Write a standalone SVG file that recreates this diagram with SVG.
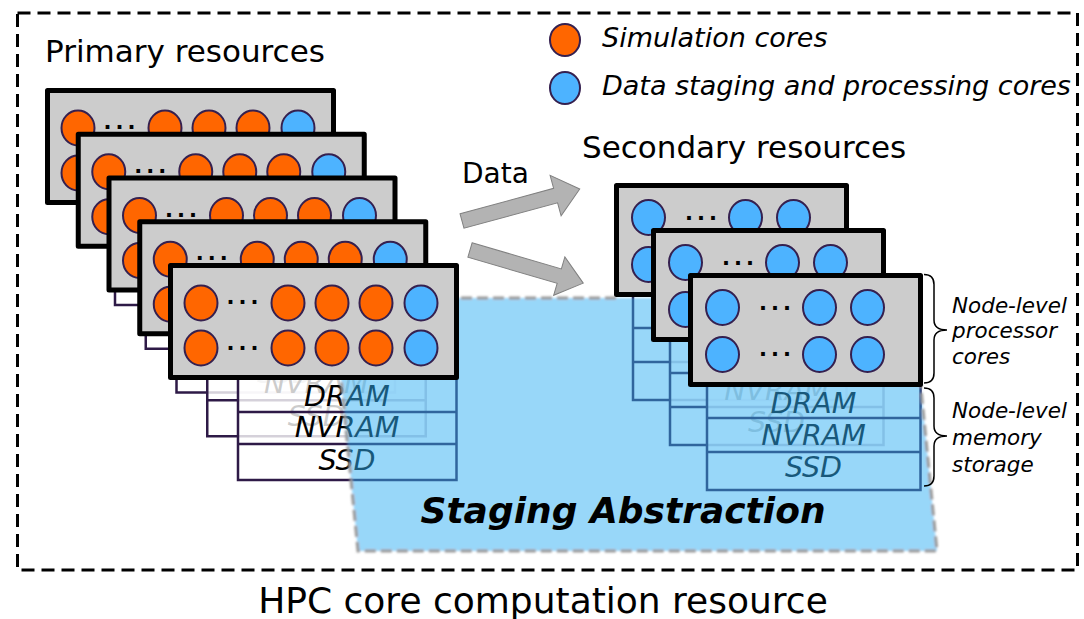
<svg xmlns="http://www.w3.org/2000/svg" width="1084" height="619" viewBox="0 0 1084 619">
  <defs>
    <style>
      text { font-family: "DejaVu Sans", "Liberation Sans", sans-serif; fill: #000; }
      .title { font-size: 31px; }
      .caption { font-size: 36px; text-anchor: middle; }
      .legend { font-size: 27px; font-style: italic; }
      .label { font-size: 28px; }
      .box { fill: #cccccc; stroke: #000; stroke-width: 5; stroke-linejoin: round; }
      .sim { fill: #ff6600; stroke: #35204f; stroke-width: 2; }
      .stg { fill: #4db3ff; stroke: #35204f; stroke-width: 2; }
      .dots { font-size: 21px; font-weight: bold; letter-spacing: 4px; text-anchor: middle; }
      .mem rect { fill: #ffffff; fill-opacity: 0.8; stroke: #2e1a47; stroke-width: 2.5; }
      .mem line { stroke: #2e1a47; stroke-width: 2.5; }
      .mem text { font-size: 28.5px; font-style: italic; text-anchor: middle; }
      .arrow { fill: #b3b3b3; stroke: #808080; stroke-width: 1; }
      .brace { fill: none; stroke: #000; stroke-width: 1.5; }
      .note { font-size: 21.5px; font-style: italic; }
      .frame { fill: none; stroke: #000; stroke-width: 3; stroke-dasharray: 13 7; }
      .area { fill: #33aff3; fill-opacity: 0.5; stroke: none; }
      .area-edge { fill: none; stroke: #9a9a9a; stroke-width: 3; stroke-dasharray: 11 5; }
      .area-title { font-size: 36px; font-weight: bold; font-style: italic; text-anchor: middle; }
    </style>
    <filter id="soft" x="-5%" y="-5%" width="110%" height="110%">
      <feGaussianBlur stdDeviation="0.8"/>
    </filter>
  </defs>

  <!-- outer frame and captions -->
  <rect class="frame" x="17.5" y="13" width="1060" height="557"/>
  <text class="title" x="45" y="62">Primary resources</text>
  <text class="title" x="582" y="158">Secondary resources</text>
  <text class="caption" x="543" y="613">HPC core computation resource</text>

  <!-- legend -->
  <g id="legend">
    <ellipse class="sim" cx="565" cy="40" rx="15" ry="16"/>
    <text class="legend" x="602" y="47">Simulation cores</text>
    <ellipse class="stg" cx="565" cy="88" rx="15" ry="16"/>
    <text class="legend" x="602" y="95">Data staging and processing cores</text>
  </g>

  <!-- memory stacks (drawn below the staging area) -->
  <g id="primary-memory">
    <g id="p1-memory" class="mem" transform="translate(47.5,90.5)">
      <rect x="67.5" y="112" width="218.5" height="102.5"/>
      <line x1="67.5" y1="146.5" x2="286" y2="146.5"/>
      <line x1="67.5" y1="178.5" x2="286" y2="178.5"/>
      <text x="176.5" y="140.5">DRAM</text>
      <text x="176.5" y="171.5">NVRAM</text>
      <text x="176.5" y="204.5">SSD</text>
    </g>
    <g id="p2-memory" class="mem" transform="translate(78.25,134.25)">
      <rect x="67.5" y="112" width="218.5" height="102.5"/>
      <line x1="67.5" y1="146.5" x2="286" y2="146.5"/>
      <line x1="67.5" y1="178.5" x2="286" y2="178.5"/>
      <text x="176.5" y="140.5">DRAM</text>
      <text x="176.5" y="171.5">NVRAM</text>
      <text x="176.5" y="204.5">SSD</text>
    </g>
    <g id="p3-memory" class="mem" transform="translate(109,178)">
      <rect x="67.5" y="112" width="218.5" height="102.5"/>
      <line x1="67.5" y1="146.5" x2="286" y2="146.5"/>
      <line x1="67.5" y1="178.5" x2="286" y2="178.5"/>
      <text x="176.5" y="140.5">DRAM</text>
      <text x="176.5" y="171.5">NVRAM</text>
      <text x="176.5" y="204.5">SSD</text>
    </g>
    <g id="p4-memory" class="mem" transform="translate(139.75,221.75)">
      <rect x="67.5" y="112" width="218.5" height="102.5"/>
      <line x1="67.5" y1="146.5" x2="286" y2="146.5"/>
      <line x1="67.5" y1="178.5" x2="286" y2="178.5"/>
      <text x="176.5" y="140.5">DRAM</text>
      <text x="176.5" y="171.5">NVRAM</text>
      <text x="176.5" y="204.5">SSD</text>
    </g>
    <g id="p5-memory" class="mem" transform="translate(170.5,265.5)">
      <rect x="67.5" y="112" width="218.5" height="102.5"/>
      <line x1="67.5" y1="146.5" x2="286" y2="146.5"/>
      <line x1="67.5" y1="178.5" x2="286" y2="178.5"/>
      <text x="176.5" y="140.5">DRAM</text>
      <text x="176.5" y="171.5">NVRAM</text>
      <text x="176.5" y="204.5">SSD</text>
    </g>
  </g>

  <g id="secondary-memory">
    <g id="s1-memory" class="mem" transform="translate(616.5,185.5)">
      <rect x="16.5" y="109" width="213.5" height="105.5"/>
      <line x1="16.5" y1="142.5" x2="230" y2="142.5"/>
      <line x1="16.5" y1="176.5" x2="230" y2="176.5"/>
      <text x="123" y="137.5">DRAM</text>
      <text x="123" y="169.5">NVRAM</text>
      <text x="123" y="201.5">SSD</text>
    </g>
    <g id="s2-memory" class="mem" transform="translate(653.5,230.5)">
      <rect x="16.5" y="109" width="213.5" height="105.5"/>
      <line x1="16.5" y1="142.5" x2="230" y2="142.5"/>
      <line x1="16.5" y1="176.5" x2="230" y2="176.5"/>
      <text x="123" y="137.5">DRAM</text>
      <text x="123" y="169.5">NVRAM</text>
      <text x="123" y="201.5">SSD</text>
    </g>
    <g id="s3-memory" class="mem" transform="translate(690.5,275.5)">
      <rect x="16.5" y="109" width="213.5" height="105.5"/>
      <line x1="16.5" y1="142.5" x2="230" y2="142.5"/>
      <line x1="16.5" y1="176.5" x2="230" y2="176.5"/>
      <text x="123" y="137.5">DRAM</text>
      <text x="123" y="169.5">NVRAM</text>
      <text x="123" y="201.5">SSD</text>
    </g>
  </g>

  <!-- staging abstraction spanning the memory of both resource sets -->
  <g id="staging-abstraction">
    <g filter="url(#soft)">
      <polygon class="area" points="333,298 912,298 937,551 358,551"/>
      <path class="area-edge" d="M 616,298 L 333,298 L 358,551 L 937,551 L 912,298"/>
    </g>
    <text class="area-title" x="623" y="523">Staging Abstraction</text>
  </g>

  <!-- primary compute nodes, back to front -->
  <g id="primary-nodes">
    <g id="p1" transform="translate(47.5,90.5)">
      <rect class="box" width="286" height="112"/>
      <ellipse class="sim" cx="30.5" cy="37.5" rx="16.5" ry="17.5"/>
      <ellipse class="sim" cx="117.5" cy="37.5" rx="16.5" ry="17.5"/>
      <ellipse class="sim" cx="161.5" cy="37.5" rx="16.5" ry="17.5"/>
      <ellipse class="sim" cx="205.5" cy="37.5" rx="16.5" ry="17.5"/>
      <ellipse class="stg" cx="250.5" cy="37.5" rx="16.5" ry="17.5"/>
      <ellipse class="sim" cx="30.5" cy="82.5" rx="16.5" ry="17.5"/>
      <ellipse class="sim" cx="117.5" cy="82.5" rx="16.5" ry="17.5"/>
      <ellipse class="sim" cx="161.5" cy="82.5" rx="16.5" ry="17.5"/>
      <ellipse class="sim" cx="205.5" cy="82.5" rx="16.5" ry="17.5"/>
      <ellipse class="stg" cx="250.5" cy="82.5" rx="16.5" ry="17.5"/>
      <text class="dots" x="74" y="38.5">...</text>
      <text class="dots" x="74" y="84.5">...</text>
    </g>
    <g id="p2" transform="translate(78.25,134.25)">
      <rect class="box" width="286" height="112"/>
      <ellipse class="sim" cx="30.5" cy="37.5" rx="16.5" ry="17.5"/>
      <ellipse class="sim" cx="117.5" cy="37.5" rx="16.5" ry="17.5"/>
      <ellipse class="sim" cx="161.5" cy="37.5" rx="16.5" ry="17.5"/>
      <ellipse class="sim" cx="205.5" cy="37.5" rx="16.5" ry="17.5"/>
      <ellipse class="stg" cx="250.5" cy="37.5" rx="16.5" ry="17.5"/>
      <ellipse class="sim" cx="30.5" cy="82.5" rx="16.5" ry="17.5"/>
      <ellipse class="sim" cx="117.5" cy="82.5" rx="16.5" ry="17.5"/>
      <ellipse class="sim" cx="161.5" cy="82.5" rx="16.5" ry="17.5"/>
      <ellipse class="sim" cx="205.5" cy="82.5" rx="16.5" ry="17.5"/>
      <ellipse class="stg" cx="250.5" cy="82.5" rx="16.5" ry="17.5"/>
      <text class="dots" x="74" y="38.5">...</text>
      <text class="dots" x="74" y="84.5">...</text>
    </g>
    <g id="p3" transform="translate(109,178)">
      <rect class="box" width="286" height="112"/>
      <ellipse class="sim" cx="30.5" cy="37.5" rx="16.5" ry="17.5"/>
      <ellipse class="sim" cx="117.5" cy="37.5" rx="16.5" ry="17.5"/>
      <ellipse class="sim" cx="161.5" cy="37.5" rx="16.5" ry="17.5"/>
      <ellipse class="sim" cx="205.5" cy="37.5" rx="16.5" ry="17.5"/>
      <ellipse class="stg" cx="250.5" cy="37.5" rx="16.5" ry="17.5"/>
      <ellipse class="sim" cx="30.5" cy="82.5" rx="16.5" ry="17.5"/>
      <ellipse class="sim" cx="117.5" cy="82.5" rx="16.5" ry="17.5"/>
      <ellipse class="sim" cx="161.5" cy="82.5" rx="16.5" ry="17.5"/>
      <ellipse class="sim" cx="205.5" cy="82.5" rx="16.5" ry="17.5"/>
      <ellipse class="stg" cx="250.5" cy="82.5" rx="16.5" ry="17.5"/>
      <text class="dots" x="74" y="38.5">...</text>
      <text class="dots" x="74" y="84.5">...</text>
    </g>
    <g id="p4" transform="translate(139.75,221.75)">
      <rect class="box" width="286" height="112"/>
      <ellipse class="sim" cx="30.5" cy="37.5" rx="16.5" ry="17.5"/>
      <ellipse class="sim" cx="117.5" cy="37.5" rx="16.5" ry="17.5"/>
      <ellipse class="sim" cx="161.5" cy="37.5" rx="16.5" ry="17.5"/>
      <ellipse class="sim" cx="205.5" cy="37.5" rx="16.5" ry="17.5"/>
      <ellipse class="stg" cx="250.5" cy="37.5" rx="16.5" ry="17.5"/>
      <ellipse class="sim" cx="30.5" cy="82.5" rx="16.5" ry="17.5"/>
      <ellipse class="sim" cx="117.5" cy="82.5" rx="16.5" ry="17.5"/>
      <ellipse class="sim" cx="161.5" cy="82.5" rx="16.5" ry="17.5"/>
      <ellipse class="sim" cx="205.5" cy="82.5" rx="16.5" ry="17.5"/>
      <ellipse class="stg" cx="250.5" cy="82.5" rx="16.5" ry="17.5"/>
      <text class="dots" x="74" y="38.5">...</text>
      <text class="dots" x="74" y="84.5">...</text>
    </g>
    <g id="p5" transform="translate(170.5,265.5)">
      <rect class="box" width="286" height="112"/>
      <ellipse class="sim" cx="30.5" cy="37.5" rx="16.5" ry="17.5"/>
      <ellipse class="sim" cx="117.5" cy="37.5" rx="16.5" ry="17.5"/>
      <ellipse class="sim" cx="161.5" cy="37.5" rx="16.5" ry="17.5"/>
      <ellipse class="sim" cx="205.5" cy="37.5" rx="16.5" ry="17.5"/>
      <ellipse class="stg" cx="250.5" cy="37.5" rx="16.5" ry="17.5"/>
      <ellipse class="sim" cx="30.5" cy="82.5" rx="16.5" ry="17.5"/>
      <ellipse class="sim" cx="117.5" cy="82.5" rx="16.5" ry="17.5"/>
      <ellipse class="sim" cx="161.5" cy="82.5" rx="16.5" ry="17.5"/>
      <ellipse class="sim" cx="205.5" cy="82.5" rx="16.5" ry="17.5"/>
      <ellipse class="stg" cx="250.5" cy="82.5" rx="16.5" ry="17.5"/>
      <text class="dots" x="74" y="38.5">...</text>
      <text class="dots" x="74" y="84.5">...</text>
    </g>
  </g>

  <!-- secondary staging nodes, back to front -->
  <g id="secondary-nodes">
    <g id="s1" transform="translate(616.5,185.5)">
      <rect class="box" width="230" height="109"/>
      <ellipse class="stg" cx="32" cy="32" rx="16.5" ry="17.5"/>
      <ellipse class="stg" cx="129" cy="32" rx="16.5" ry="17.5"/>
      <ellipse class="stg" cx="177" cy="32" rx="16.5" ry="17.5"/>
      <ellipse class="stg" cx="32" cy="79" rx="16.5" ry="17.5"/>
      <ellipse class="stg" cx="129" cy="79" rx="16.5" ry="17.5"/>
      <ellipse class="stg" cx="177" cy="79" rx="16.5" ry="17.5"/>
      <text class="dots" x="86.5" y="34">...</text>
      <text class="dots" x="86.5" y="80">...</text>
    </g>
    <g id="s2" transform="translate(653.5,230.5)">
      <rect class="box" width="230" height="109"/>
      <ellipse class="stg" cx="32" cy="32" rx="16.5" ry="17.5"/>
      <ellipse class="stg" cx="129" cy="32" rx="16.5" ry="17.5"/>
      <ellipse class="stg" cx="177" cy="32" rx="16.5" ry="17.5"/>
      <ellipse class="stg" cx="32" cy="79" rx="16.5" ry="17.5"/>
      <ellipse class="stg" cx="129" cy="79" rx="16.5" ry="17.5"/>
      <ellipse class="stg" cx="177" cy="79" rx="16.5" ry="17.5"/>
      <text class="dots" x="86.5" y="34">...</text>
      <text class="dots" x="86.5" y="80">...</text>
    </g>
    <g id="s3" transform="translate(690.5,275.5)">
      <rect class="box" width="230" height="109"/>
      <ellipse class="stg" cx="32" cy="32" rx="16.5" ry="17.5"/>
      <ellipse class="stg" cx="129" cy="32" rx="16.5" ry="17.5"/>
      <ellipse class="stg" cx="177" cy="32" rx="16.5" ry="17.5"/>
      <ellipse class="stg" cx="32" cy="79" rx="16.5" ry="17.5"/>
      <ellipse class="stg" cx="129" cy="79" rx="16.5" ry="17.5"/>
      <ellipse class="stg" cx="177" cy="79" rx="16.5" ry="17.5"/>
      <text class="dots" x="86.5" y="34">...</text>
      <text class="dots" x="86.5" y="80">...</text>
    </g>
  </g>

  <!-- data movement from primary to secondary resources -->
  <g id="connectors">
    <polygon class="arrow" transform="translate(462,221) rotate(-15.2)" points="0,-7.5 97,-7.5 97,-21 122,0 97,21 97,7.5 0,7.5"/>
    <polygon class="arrow" transform="translate(470,250) rotate(16.3)" points="0,-7.5 93,-7.5 93,-20 118,0 93,20 93,7.5 0,7.5"/>
    <text class="label" x="462" y="183">Data</text>
  </g>

  <!-- node-level annotations -->
  <g id="annotations">
    <path class="brace" d="M 924,274.5 Q 934,274.5 934,284.5 L 934,320 Q 934,330 947,330 Q 934,330 934,340 L 934,373 Q 934,383 924,383"/>
    <text class="note" x="952" y="313">Node-level</text>
    <text class="note" x="952" y="338">processor</text>
    <text class="note" x="952" y="364">cores</text>
    <path class="brace" d="M 924,388 Q 934,388 934,398 L 934,426 Q 934,436 947,436 Q 934,436 934,446 L 934,476 Q 934,486 924,486"/>
    <text class="note" x="952" y="418">Node-level</text>
    <text class="note" x="952" y="445">memory</text>
    <text class="note" x="952" y="472">storage</text>
  </g>
</svg>
